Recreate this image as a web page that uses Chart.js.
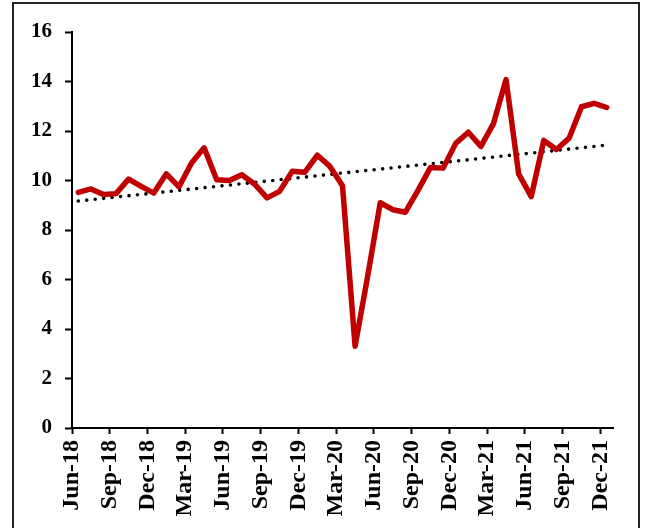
<!DOCTYPE html>
<html>
<head>
<meta charset="utf-8">
<script src="https://cdn.jsdelivr.net/npm/chart.js@4.4.1/dist/chart.umd.min.js"></script>
<style>
    html, body { margin: 0; padding: 0; background: #fff; }
    #wrap { position: relative; width: 647px; height: 528px; overflow: hidden; }
    #frame { position: absolute; left: 12px; top: 2px; width: 628px; height: 600px; border: 2px solid #222; box-sizing: border-box; }
    #chart { position: absolute; left: 0; top: 0; }
</style>
</head>
<body>
<div id="wrap">
    <div id="frame"></div>
    <canvas id="chart" width="647" height="528"></canvas>
</div>
<script>
// --- Data ---
const months = [
    'Jun-18', 'Jul-18', 'Aug-18', 'Sep-18', 'Oct-18', 'Nov-18', 'Dec-18',
    'Jan-19', 'Feb-19', 'Mar-19', 'Apr-19', 'May-19', 'Jun-19', 'Jul-19', 'Aug-19', 'Sep-19', 'Oct-19', 'Nov-19', 'Dec-19',
    'Jan-20', 'Feb-20', 'Mar-20', 'Apr-20', 'May-20', 'Jun-20', 'Jul-20', 'Aug-20', 'Sep-20', 'Oct-20', 'Nov-20', 'Dec-20',
    'Jan-21', 'Feb-21', 'Mar-21', 'Apr-21', 'May-21', 'Jun-21', 'Jul-21', 'Aug-21', 'Sep-21', 'Oct-21', 'Nov-21', 'Dec-21'
];

const values = [
    9.52, 9.66, 9.43, 9.47, 10.06, 9.76, 9.49,
    10.27, 9.74, 10.71, 11.32, 10.03, 10.0, 10.23, 9.86, 9.3, 9.56, 10.37, 10.33,
    11.02, 10.57, 9.79, 3.3, 6.13, 9.1, 8.82, 8.72, 9.6, 10.53, 10.5, 11.5,
    11.95, 11.38, 12.3, 14.08, 10.27, 9.35, 11.62, 11.25, 11.7, 12.98, 13.12, 12.95
];

// dotted linear trendline: value at first and last month
const trendEnds = [9.17, 11.43];

const tickLabels = ['Jun-18', 'Sep-18', 'Dec-18', 'Mar-19', 'Jun-19', 'Sep-19', 'Dec-19', 'Mar-20',
    'Jun-20', 'Sep-20', 'Dec-20', 'Mar-21', 'Jun-21', 'Sep-21', 'Dec-21'];
const TICK_STEP = 3; // months between labelled ticks

// points sit in the middle of each month on a month axis
const lineData = values.map((v, i) => ({ x: i + 0.5, y: v }));
const trendData = [
    { x: 0.5, y: trendEnds[0] },
    { x: months.length - 0.5, y: trendEnds[1] }
];

const FONT = '"Liberation Serif", "Times New Roman", serif';

const ctx = document.getElementById('chart').getContext('2d');
new Chart(ctx, {
    type: 'line',
    data: {
        datasets: [
            {
                label: 'Series',
                data: lineData,
                borderColor: '#C00000',
                borderWidth: 5.5,
                borderJoinStyle: 'round',
                borderCapStyle: 'round',
                pointRadius: 0,
                tension: 0
            },
            {
                label: 'Trend',
                data: trendData,
                borderColor: '#000',
                borderWidth: 3.6,
                borderDash: [0, 8.5],
                borderCapStyle: 'round',
                pointRadius: 0
            }
        ]
    },
    options: {
        responsive: false,
        animation: false,
        devicePixelRatio: 1,
        layout: { padding: { left: 0, top: 32, right: 34, bottom: 0 } },
        plugins: {
            legend: { display: false },
            tooltip: { enabled: false }
        },
        scales: {
            x: {
                type: 'linear',
                min: 0,
                max: months.length,
                afterBuildTicks: (scale) => {
                    scale.ticks = tickLabels.map((_, k) => ({ value: k * TICK_STEP }));
                },
                afterFit: (scale) => { scale.height = 100; },
                grid: {
                    drawOnChartArea: false,
                    drawTicks: true,
                    tickLength: 6,
                    tickWidth: 2,
                    tickColor: '#000'
                },
                border: { display: true, color: '#000', width: 2 },
                ticks: {
                    autoSkip: false,
                    minRotation: 90,
                    maxRotation: 90,
                    padding: 6,
                    color: '#000',
                    font: { family: FONT, size: 24, weight: 'bold' },
                    callback: (value, index) => tickLabels[index]
                }
            },
            y: {
                min: 0,
                max: 16,
                afterFit: (scale) => { scale.width = 72; },
                grid: {
                    drawOnChartArea: false,
                    drawTicks: true,
                    tickLength: 7,
                    tickWidth: 2,
                    tickColor: '#000'
                },
                border: { display: true, color: '#000', width: 2 },
                ticks: {
                    stepSize: 2,
                    padding: 13,
                    color: '#000',
                    font: { family: FONT, size: 21, weight: 'bold' }
                }
            }
        }
    }
});
</script>
</body>
</html>
